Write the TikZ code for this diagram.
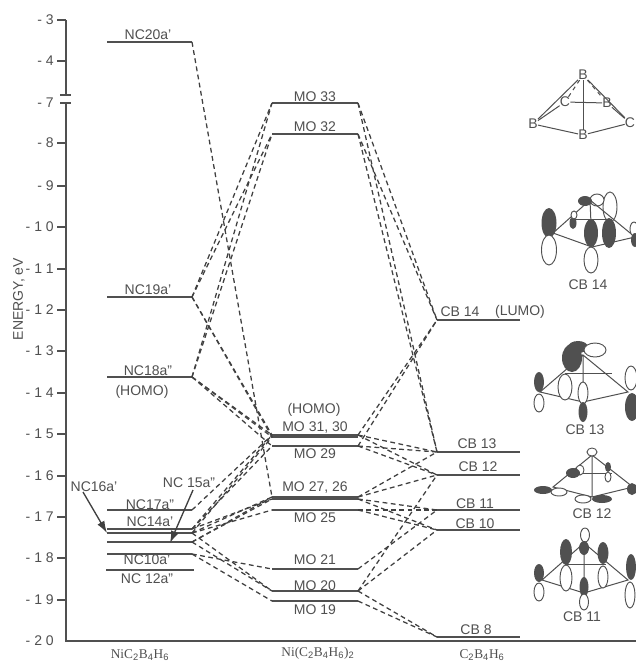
\documentclass[tikz,border=0pt]{standalone}
\usepackage{fontspec}
\setmainfont{Liberation Sans}
\newfontfamily\serifcap{Liberation Serif}
\definecolor{ink}{HTML}{505050}
\definecolor{inkdk}{HTML}{404040}
\tikzset{
  lvl/.style={draw=ink,line width=0.85pt},
  conn/.style={draw=inkdk,line width=0.95pt,dash pattern=on 3.6pt off 2.6pt},
  lab/.style={text=ink,inner sep=0pt,font=\fontsize{10.5}{12}\selectfont},
  ticklab/.style={text=ink,inner sep=0pt,anchor=east,font=\fontsize{10.5}{12}\selectfont},
  caplab/.style={text=ink,inner sep=0pt,font=\serifcap\fontsize{10}{12}\selectfont},
  frame/.style={draw=ink,line width=0.75pt},
  call/.style={draw=inkdk,line width=1pt,-{Latex[length=9pt,width=6pt]}}
}
\usetikzlibrary{arrows.meta}
\newcommand{\lev}[4]{\coordinate (#1l) at (#2,#4);\coordinate (#1r) at (#3,#4);\draw[lvl] (#1l) -- (#1r);}
\newcommand{\fullorb}[4]{\fill[ink] (#1,#2) ellipse [x radius=#3,y radius=#4];}
\newcommand{\openorb}[4]{\draw[ink,line width=0.7pt,fill=white] (#1,#2) ellipse [x radius=#3,y radius=#4];}
\newcommand{\tickm}[4]{\coordinate (t#1) at (66,#2);\coordinate (u#1) at (57,#2);\draw[lvl] (u#1) -- (t#1);\node[ticklab] (n#1) at (54,#2) {#3};}
\begin{document}
\begin{tikzpicture}[x=0.75pt,y=-0.75pt]
\useasboundingbox (0,0) rectangle (636,662);
\clip (0,0) rectangle (636,662);
\fill[white] (0,0) rectangle (636,662);
% axis
\coordinate (axtop) at (66,20);\coordinate (axb1) at (66,95);\coordinate (axb2) at (66,103);
\coordinate (axo) at (66,641);\coordinate (axr) at (636,641);
\draw[lvl,line width=1pt] (axtop) -- (axb1);
\draw[lvl,line width=1pt] (axb2) -- (axo) -- (axr);
\coordinate (br1a) at (60,95);\coordinate (br1b) at (71,95);\coordinate (br2a) at (60,103);\coordinate (br2b) at (71,103);
\draw[lvl] (br1a) -- (br1b);\draw[lvl] (br2a) -- (br2b);
\tickm{a}{20}{- 3}{}
\tickm{b}{61}{- 4}{}
\node[ticklab] (n7) at (54,103) {- 7};
\tickm{c}{143}{- 8}{}
\tickm{d}{186}{- 9}{}
\tickm{e}{227}{- 1 0}{}
\tickm{f}{269}{- 1 1}{}
\tickm{g}{310}{- 1 2}{}
\tickm{h}{351}{- 1 3}{}
\tickm{i}{393}{- 1 4}{}
\tickm{j}{434}{- 1 5}{}
\tickm{k}{476}{- 1 6}{}
\tickm{l}{517}{- 1 7}{}
\tickm{m}{558}{- 1 8}{}
\tickm{n}{600}{- 1 9}{}
\node[ticklab] (n20) at (54,641) {- 2 0};
\node[lab,rotate=90] (ytitle) at (19,299) {ENERGY, eV};
% levels: left
\lev{Lt}{107}{192}{42}
\lev{Ls}{107}{192}{297}
\lev{Lr}{107}{192}{377}
\lev{Lq}{107}{192}{510}
\lev{La}{107}{192}{529}
\lev{Lb}{107}{192}{533}
\lev{Lc}{107}{192}{542}
\lev{Ld}{107}{192}{554}
\lev{Le}{106}{194}{570}
% levels: middle
\lev{Ma}{272}{358}{103}
\lev{Mb}{272}{358}{134}
\lev{Mc}{272}{358}{435}
\lev{Md}{272}{358}{437}
\lev{Me}{272}{358}{446}
\lev{Mf}{272}{358}{497}
\lev{Mg}{272}{358}{499}
\lev{Mh}{272}{358}{510}
\lev{Mi}{272}{358}{569}
\lev{Mj}{272}{358}{591}
\lev{Mk}{272}{358}{601}
% levels: right
\lev{Ca}{437}{520}{320}
\lev{Cb}{437}{520}{452}
\lev{Cc}{437}{520}{475}
\lev{Cd}{437}{520}{510}
\lev{Ce}{437}{520}{530}
\lev{Cf}{437}{520}{637}
% connectors left to middle
\draw[conn] (Ltr) -- (Mfl);
\foreach \a/\b in {Ls/Ma,Ls/Mb,Lr/Ma,Lr/Mb,Ls/Mc,Ls/Md,Lr/Md,Lr/Me,Lr/Mc,Lq/Mc,La/Mc,La/Me,Lb/Md,La/Mg,Lb/Mf,Lc/Mf,Lb/Mh,Lc/Mg,Ld/Mi,Lb/Mj,Lc/Mj,Ld/Mk}
  {\draw[conn] (\a r) -- (\b l);}
% connectors middle to right
\foreach \a/\b in {Ma/Ca,Mb/Ca,Ma/Cb,Mb/Cb,Mc/Ca,Me/Ca,Mc/Cb,Mc/Cc,Me/Cb,Me/Cc,Mf/Cb,Mf/Cc,Mg/Cd,Mg/Ce,Mh/Cd,Mh/Ce,Mi/Cd,Mj/Cc,Mj/Ce,Mj/Cf,Mk/Cf}
  {\draw[conn] (\a r) -- (\b l);}
% level labels
\node[lab] (tLt) at (148,35) {NC20a'};
\node[lab] (tLs) at (148,290) {NC19a'};
\node[lab] (tLr) at (148,371) {NC18a"};
\node[lab] (tLh) at (142,392) {(HOMO)};
\node[lab] (tLq) at (150,505) {NC17a"};
\node[lab] (tLa) at (150,522) {NC14a'};
\node[lab] (tLd) at (147,560) {NC10a'};
\node[lab] (tLe) at (147,579) {NC 12a"};
\node[lab] (tA) at (94,487) {NC16a'};
\node[lab] (tB) at (189,483) {NC 15a"};
\coordinate (tAs) at (83,492);\coordinate (tBs) at (193,490);
\coordinate (tAe) at (107,533);\coordinate (tBe) at (170,543);
\draw[call] (tAs) -- (tAe);
\draw[call] (tBs) -- (tBe);
\node[lab] (tMa) at (315,97) {MO 33};
\node[lab] (tMb) at (315,127) {MO 32};
\node[lab] (tMh) at (314,410) {(HOMO)};
\node[lab] (tMc) at (315,427) {MO 31, 30};
\node[lab] (tMe) at (315,454) {MO 29};
\node[lab] (tMf) at (315,488) {MO 27, 26};
\node[lab] (tMg) at (315,518) {MO 25};
\node[lab] (tMi) at (315,560) {MO 21};
\node[lab] (tMj) at (315,586) {MO 20};
\node[lab] (tMk) at (315,610) {MO 19};
\node[lab] (tCa) at (460,312) {CB 14};
\node[lab] (tCl) at (520,312) {(LUMO)};
\node[lab] (tCb) at (477,444) {CB 13};
\node[lab] (tCc) at (478,467) {CB 12};
\node[lab] (tCd) at (475,504) {CB 11};
\node[lab] (tCe) at (475,524) {CB 10};
\node[lab] (tCf) at (476,630) {CB 8};
\node[caplab] (capL) at (140,655) {NiC$_{\mathrm{2}}$B$_{\mathrm{4}}$H$_{\mathrm{6}}$};
\node[caplab] (capM) at (318,653) {Ni(C$_{\mathrm{2}}$B$_{\mathrm{4}}$H$_{\mathrm{6}}$)$_{\mathrm{2}}$};
\node[caplab] (capR) at (482,655) {C$_{\mathrm{2}}$B$_{\mathrm{4}}$H$_{\mathrm{6}}$};
% skeleton molecule
\node[lab] (sA) at (583,75) {B};
\node[lab] (sC) at (565,102) {C};
\node[lab] (sD) at (607,103) {B};
\node[lab] (sE) at (533,124) {B};
\node[lab] (sF) at (630,123) {C};
\node[lab] (sG) at (583,135) {B};
\draw[frame] (sA) -- (sE);\draw[frame] (sA) -- (sF);
\draw[frame] (sE) -- (sG) -- (sF);
\draw[frame] (sA) -- (sG);
\draw[frame] (sC) -- (sD);
\draw[frame,dashed] (sA) -- (sC);\draw[frame,dashed] (sA) -- (sD);
\draw[frame] (sE) -- (sC);\draw[frame] (sF) -- (sD);
% CB 14
\node[lab] (l14) at (588,285) {CB 14};
\openorb{610}{207}{7}{15}
\openorb{597}{200}{7}{6}
\draw[frame] (590,200) -- (553,233) -- (592,247) -- (635,237) -- (590,200) -- (592,247);
\draw[frame] (570,219) -- (612,219);
\fullorb{549}{223}{7.5}{15}
\openorb{549}{250}{7.5}{15}
\fullorb{591}{233}{7}{14}
\openorb{591}{260}{7}{13}
\fullorb{609}{233}{7}{15}
\fullorb{585}{201}{7}{5}
\fullorb{573}{223}{3.5}{6}
\openorb{574}{215}{3}{4}
\openorb{634}{229}{4}{7}
\fullorb{635}{240}{4}{7}
% CB 13
\node[lab] (l13) at (585,430) {CB 13};
\draw[frame] (583,355) -- (540,392) -- (583,402) -- (628,392) -- (583,355) -- (583,402);
\draw[frame] (565,373) -- (612,373);
\fullorb{572}{358}{10}{14}
\fullorb{578}{347}{10}{6}
\openorb{595}{350}{11}{7}
\fullorb{539}{382}{5}{10}
\openorb{539}{403}{5}{9}
\openorb{565}{387}{7}{13}
\openorb{583}{393}{5}{11}
\fullorb{583}{412}{4.5}{10}
\openorb{631}{378}{6}{12}
\fullorb{632}{407}{7}{14}
% CB 12
\node[lab] (l12) at (592,514) {CB 12};
\draw[frame] (592,455) -- (553,487) -- (592,497) -- (633,487) -- (592,455) -- (592,497);
\draw[frame] (573,473) -- (612,473);
\openorb{592}{452}{5}{4}
\fullorb{543}{490}{9}{4}
\openorb{559}{492}{8}{4}
\openorb{580}{470}{4}{5}
\fullorb{573}{473}{7}{5}
\fullorb{608}{467}{3}{5}
\openorb{608}{477}{3}{5}
\fullorb{632}{489}{5}{6}
\openorb{583}{499}{8}{4}
\fullorb{602}{499}{10}{4}
% CB 11
\node[lab] (l11) at (582,617) {CB 11};
\draw[frame] (584,543) -- (542,580) -- (584,593) -- (628,580) -- (584,543) -- (584,593);
\draw[frame] (565,564) -- (606,564);
\openorb{585}{535}{4.5}{7}
\fullorb{584}{548}{5}{7}
\fullorb{566}{552}{6}{13}
\openorb{566}{578}{6}{13}
\fullorb{603}{553}{5.5}{11}
\openorb{603}{577}{5}{11}
\fullorb{539}{573}{5}{9}
\openorb{539}{592}{5}{9}
\fullorb{584}{587}{4.5}{10}
\openorb{584}{602}{4.5}{8}
\fullorb{631}{567}{5}{13}
\openorb{630}{595}{5}{13}
\end{tikzpicture}
\end{document}
